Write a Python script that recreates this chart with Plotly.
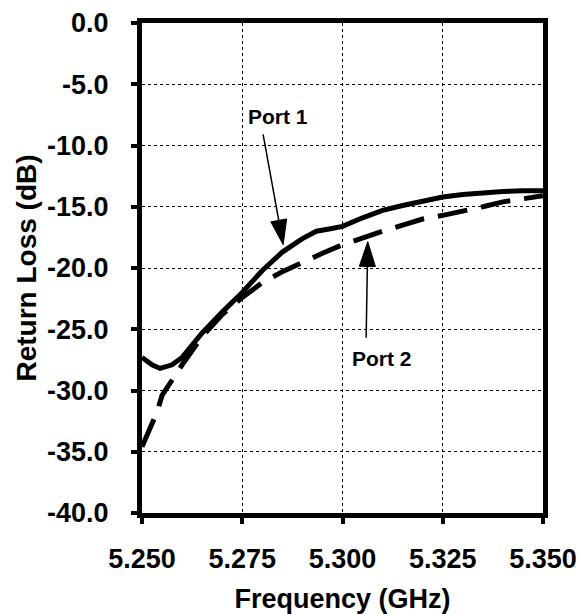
import plotly.graph_objects as go

# ---- data ----
freq_port1 = [5.250, 5.2525, 5.2545, 5.2575, 5.260, 5.265, 5.270, 5.275, 5.280, 5.285,
              5.290, 5.2935, 5.297, 5.300, 5.305, 5.310, 5.315, 5.320, 5.325, 5.330,
              5.335, 5.340, 5.345, 5.350]
rl_port1 = [-27.3, -27.9, -28.2, -27.9, -27.3, -25.3, -23.6, -22.0, -20.2, -18.7,
            -17.6, -17.0, -16.8, -16.6, -15.9, -15.3, -14.9, -14.5, -14.2, -14.0,
            -13.85, -13.75, -13.7, -13.7]

freq_port2 = [5.250, 5.2537, 5.255, 5.260, 5.265, 5.270, 5.275, 5.280, 5.285, 5.290,
              5.295, 5.300, 5.305, 5.310, 5.315, 5.320, 5.325, 5.330, 5.335, 5.340,
              5.345, 5.350]
rl_port2 = [-34.6, -31.8, -30.4, -27.9, -25.6, -23.8, -22.4, -21.2, -20.3, -19.5,
            -18.8, -18.1, -17.5, -17.0, -16.5, -16.0, -15.7, -15.4, -15.0, -14.6,
            -14.35, -14.1]

x_ticks = [5.250, 5.275, 5.300, 5.325, 5.350]
x_ticktext = ["5.250", "5.275", "5.300", "5.325", "5.350"]
y_ticks = [0, -5, -10, -15, -20, -25, -30, -35, -40]
y_ticktext = ["0.0", "-5.0", "-10.0", "-15.0", "-20.0", "-25.0", "-30.0", "-35.0", "-40.0"]

labels = ["Port 1", "Port 2"]
label_x = [5.2839, 5.3099]
label_y = [-7.6, -27.35]
arrow_tail_x = [5.2802, 5.3059]
arrow_tail_y = [-9.1, -25.7]
arrow_head_x = [5.2852, 5.3063]
arrow_head_y = [-18.1, -17.85]

FONT = "Liberation Sans"

fig = go.Figure()
fig.add_trace(go.Scatter(x=freq_port1, y=rl_port1, mode="lines",
                         line=dict(color="black", width=5), showlegend=False))
fig.add_trace(go.Scatter(x=freq_port2, y=rl_port2, mode="lines",
                         line=dict(color="black", width=5, dash="30px,14px"),
                         showlegend=False))

for i in range(len(labels)):
    fig.add_trace(go.Scatter(
        x=[arrow_tail_x[i], arrow_head_x[i]], y=[arrow_tail_y[i], arrow_head_y[i]],
        mode="lines+markers",
        line=dict(color="black", width=1.5),
        marker=dict(symbol=["circle", "arrow"], size=[0, 26], color="#000000",
                    opacity=1, angleref="previous",
                    line=dict(width=1, color="#000000")),
        showlegend=False, cliponaxis=False))
    fig.add_annotation(x=label_x[i], y=label_y[i], text=labels[i], showarrow=False,
                       font=dict(family=FONT, size=21, color="black", weight=700))

axis_common = dict(showline=True, linewidth=5, linecolor="black", mirror=True,
                   showgrid=True, gridcolor="black", gridwidth=1, griddash="dot",
                   ticks="outside", ticklen=6, tickwidth=4, tickcolor="black",
                   zeroline=False, automargin=False,
                   tickfont=dict(family=FONT, size=27, color="black", weight=700))

fig.update_xaxes(range=[5.250, 5.350], tickvals=x_ticks, ticktext=x_ticktext,
                 ticklabelstandoff=12,
                 title=dict(text="Frequency (GHz)", standoff=18,
                            font=dict(family=FONT, size=27, color="black", weight=700)),
                 **axis_common)
fig.update_yaxes(range=[-40, 0], tickvals=y_ticks, ticktext=y_ticktext,
                 ticklabelstandoff=17,
                 title=dict(text="Return Loss (dB)", standoff=4,
                            font=dict(family=FONT, size=28, color="black", weight=700)),
                 **axis_common)

fig.update_layout(width=581, height=614, margin=dict(l=142, r=38, t=23, b=101),
                  plot_bgcolor="white", paper_bgcolor="white")

fig.write_html("out.html")
